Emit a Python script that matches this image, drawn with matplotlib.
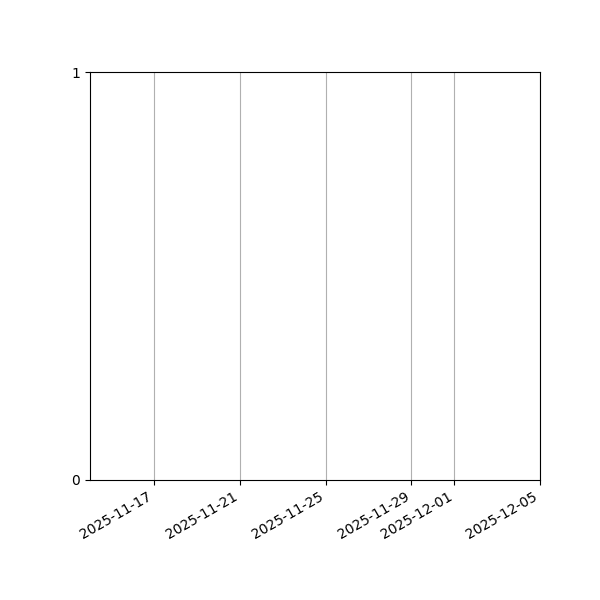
import datetime as dt
import matplotlib
matplotlib.use("Agg")
import matplotlib.pyplot as plt
import matplotlib.dates as mdates

# Date range shown (the chart has no series drawn)
x_start = dt.datetime(2025, 11, 14)
x_end = dt.datetime(2025, 12, 5)
tick_dates = [dt.datetime(2025, 11, 17), dt.datetime(2025, 11, 21),
              dt.datetime(2025, 11, 25), dt.datetime(2025, 11, 29),
              dt.datetime(2025, 12, 1), dt.datetime(2025, 12, 5)]
y_ticks = [0, 1]

fig, ax = plt.subplots(figsize=(6, 6), dpi=100)
fig.subplots_adjust(left=0.15, right=0.9, top=0.88, bottom=0.2)

ax.set_xlim(x_start, x_end)
ax.set_ylim(0, 1)
ax.set_xticks(tick_dates)
ax.xaxis.set_major_formatter(mdates.DateFormatter("%Y-%m-%d"))
ax.set_yticks(y_ticks)
ax.grid(axis="x", color="#b0b0b0", linewidth=0.8)

for lbl in ax.get_xticklabels():
    lbl.set_rotation(30)
    lbl.set_ha("right")

fig.savefig("out.png", dpi=100)
